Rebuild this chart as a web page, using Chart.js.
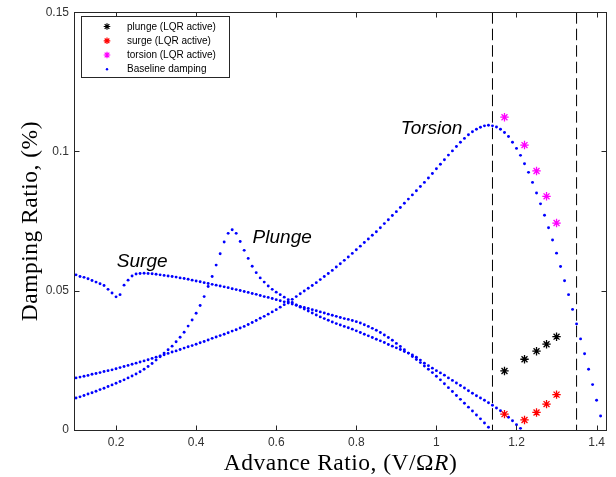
<!DOCTYPE html>
<html>
<head>
<meta charset="utf-8">
<script src="https://cdn.jsdelivr.net/npm/chart.js@4.4.1/dist/chart.umd.min.js"></script>
<style>
html,body{margin:0;padding:0;background:#fff;}
#wrap{position:relative;width:616px;height:477px;}
</style>
</head>
<body>
<div id="wrap"><canvas id="c"></canvas></div>
<script>
// ---- data ----
const advanceRatio = [
0.10,0.11,0.12,0.13,0.14,0.15,0.16,0.17,0.18,0.19,
0.20,0.21,0.22,0.23,0.24,0.25,0.26,0.27,0.28,0.29,
0.30,0.31,0.32,0.33,0.34,0.35,0.36,0.37,0.38,0.39,
0.40,0.41,0.42,0.43,0.44,0.45,0.46,0.47,0.48,0.49,
0.50,0.51,0.52,0.53,0.54,0.55,0.56,0.57,0.58,0.59,
0.60,0.61,0.62,0.63,0.64,0.65,0.66,0.67,0.68,0.69,
0.70,0.71,0.72,0.73,0.74,0.75,0.76,0.77,0.78,0.79,
0.80,0.81,0.82,0.83,0.84,0.85,0.86,0.87,0.88,0.89,
0.90,0.91,0.92,0.93,0.94,0.95,0.96,0.97,0.98,0.99,
1.00,1.01,1.02,1.03,1.04,1.05,1.06,1.07,1.08,1.09,
1.10,1.11,1.12,1.13,1.14,1.15,1.16,1.17,1.18,1.19,
1.20,1.21,1.22,1.23,1.24,1.25,1.26,1.27,1.28,1.29,
1.30,1.31,1.32,1.33,1.34,1.35,1.36,1.37,1.38,1.39,
1.40,1.41];

const torsionBaseline = [
.0187,.0190,.0193,.0196,.0200,.0203,.0206,.0210,.0213,.0216,
.0220,.0224,.0228,.0232,.0236,.0240,.0244,.0248,.0252,.0257,
.0261,.0266,.0270,.0275,.0280,.0284,.0289,.0294,.0299,.0303,
.0308,.0313,.0318,.0323,.0329,.0334,.0339,.0344,.0349,.0355,
.0360,.0366,.0372,.0379,.0386,.0393,.0401,.0408,.0416,.0424,
.0432,.0441,.0450,.0460,.0469,.0479,.0489,.0499,.0509,.0519,
.0529,.0540,.0551,.0562,.0573,.0585,.0597,.0609,.0621,.0634,
.0647,.0660,.0673,.0686,.0699,.0712,.0726,.0741,.0755,.0770,
.0784,.0799,.0814,.0829,.0844,.0859,.0874,.0889,.0905,.0921,
.0938,.0954,.0970,.0987,.1002,.1018,.1033,.1047,.1060,.1071,
.1080,.1087,.1092,.1094,.1092,.1088,.1080,.1068,.1054,.1033,
.1011,.0986,.0956,.0925,.0889,.0851,.0812,.0771,.0726,.0682,
.0635,.0587,.0536,.0486,.0433,.0381,.0327,.0274,.0218,.0163,
.0107,.0050];

const plungeBaseline = [
.0115,.0119,.0124,.0129,.0134,.0139,.0145,.0150,.0156,.0162,
.0168,.0174,.0180,.0187,.0194,.0201,.0209,.0218,.0228,.0239,
.0251,.0263,.0276,.0288,.0301,.0317,.0333,.0351,.0373,.0395,
.0419,.0447,.0479,.0515,.0551,.0592,.0633,.0675,.0706,.0719,
.0706,.0677,.0645,.0616,.0588,.0565,.0546,.0531,.0517,.0505,
.0495,.0486,.0477,.0468,.0458,.0449,.0441,.0434,.0427,.0420,
.0413,.0406,.0400,.0394,.0388,.0382,.0377,.0372,.0367,.0362,
.0356,.0350,.0344,.0338,.0332,.0326,.0320,.0314,.0307,.0301,
.0295,.0289,.0282,.0276,.0269,.0261,.0251,.0240,.0231,.0222,
.0213,.0205,.0197,.0187,.0178,.0169,.0160,.0151,.0141,.0132,
.0123,.0115,.0107,.0098,.0089,.0079,.0069,.0059,.0046,.0033,
.0019,.0006];

const surgeBaseline = [
.0557,.0551,.0548,.0543,.0537,.0531,.0525,.0519,.0505,.0492,
.0478,.0486,.0520,.0538,.0553,.0560,.0562,.0563,.0562,.0561,
.0559,.0557,.0555,.0553,.0551,.0549,.0546,.0544,.0541,.0538,
.0535,.0532,.0529,.0526,.0523,.0520,.0517,.0514,.0511,.0507,
.0504,.0501,.0497,.0494,.0490,.0487,.0483,.0479,.0476,.0472,
.0468,.0464,.0460,.0456,.0452,.0448,.0444,.0440,.0436,.0432,
.0428,.0424,.0420,.0416,.0412,.0408,.0404,.0400,.0397,.0393,
.0389,.0384,.0378,.0372,.0365,.0358,.0350,.0341,.0332,.0322,
.0311,.0300,.0288,.0276,.0264,.0253,.0242,.0230,.0218,.0206,
.0193,.0180,.0166,.0152,.0138,.0124,.0110,.0096,.0082,.0068,
.0054,.0040,.0025,.0010];

const lqrAdvanceRatio = [1.17, 1.22, 1.25, 1.275, 1.30];
const plungeLQR  = [0.0212, 0.0254, 0.0283, 0.0308, 0.0335];
const surgeLQR   = [0.0057, 0.0036, 0.0063, 0.0093, 0.0127];
const torsionLQR = [0.1123, 0.1023, 0.0930, 0.0839, 0.0743];

const boundaryRatios = [1.14, 1.35];

const xTickValues = [0.2, 0.4, 0.6, 0.8, 1.0, 1.2, 1.4];
const xTickLabels = ['0.2', '0.4', '0.6', '0.8', '1', '1.2', '1.4'];
const yTickValues = [0, 0.05, 0.1, 0.15];
const yTickLabels = ['0', '0.05', '0.1', '0.15'];

const legendLabels = ['plunge (LQR active)', 'surge (LQR active)', 'torsion (LQR active)', 'Baseline damping'];
const curveNames = ['Surge', 'Plunge', 'Torsion'];
const xTitle = ['Advance Ratio, (V/\u03A9', 'R', ')'];
const yTitle = 'Damping Ratio, (%)';

// ---- build ----
const pts = (xs, ys) => ys.map((v, i) => ({x: xs[i], y: v}));
const BLUE = '#0000ff', RED = '#ff0000', MAG = '#ff00ff', BLK = '#000000';

function starSet(label, ys, color) {
  return {label, data: pts(lqrAdvanceRatio, ys), showLine: false,
    pointStyle: 'star', pointRadius: 4.2, pointBorderWidth: 1.3,
    borderColor: color, backgroundColor: color};
}
function dotSet(label, ys) {
  return {label, data: pts(advanceRatio, ys), showLine: false,
    pointStyle: 'circle', pointRadius: 1.45, pointBorderWidth: 0,
    borderColor: BLUE, backgroundColor: BLUE};
}
const yMin = yTickValues[0], yMax = yTickValues[yTickValues.length - 1];

const datasets = [
  starSet(legendLabels[0], plungeLQR, BLK),
  starSet(legendLabels[1], surgeLQR, RED),
  starSet(legendLabels[2], torsionLQR, MAG),
  dotSet(legendLabels[3], torsionBaseline),
  dotSet(legendLabels[3], plungeBaseline),
  dotSet(legendLabels[3], surgeBaseline),
  ...boundaryRatios.map(b => ({label: 'boundary', data: [{x: b, y: yMax}, {x: b, y: yMin}],
    showLine: true, pointRadius: 0, borderColor: BLK, borderWidth: 1, borderDash: [11.5, 5]}))
];

const annotationAt = [[0.202, 0.0586], [0.541, 0.0671], [0.911, 0.1063]];
const legendColors = [BLK, RED, MAG, BLUE];

function drawAsterisk(ctx, cx, cy, r, color, lw) {
  ctx.save();
  ctx.strokeStyle = color; ctx.lineWidth = lw;
  ctx.beginPath();
  const d = r * Math.SQRT1_2;
  ctx.moveTo(cx - r, cy); ctx.lineTo(cx + r, cy);
  ctx.moveTo(cx, cy - r); ctx.lineTo(cx, cy + r);
  ctx.moveTo(cx - d, cy - d); ctx.lineTo(cx + d, cy + d);
  ctx.moveTo(cx - d, cy + d); ctx.lineTo(cx + d, cy - d);
  ctx.stroke();
  ctx.restore();
}

const decor = {
  id: 'decor',
  afterDatasetsDraw(chart) {
    const {ctx, chartArea: a, scales: {x, y}} = chart;
    ctx.save();
    // curve annotations
    ctx.fillStyle = '#000';
    ctx.font = 'italic 19px "Liberation Sans", Arial, sans-serif';
    ctx.textAlign = 'left'; ctx.textBaseline = 'alphabetic';
    curveNames.forEach((n, i) => ctx.fillText(n, x.getPixelForValue(annotationAt[i][0]), y.getPixelForValue(annotationAt[i][1])));

    // frame
    const L = Math.round(a.left) + 0.5, R = Math.round(a.right) - 0.5;
    const T = Math.round(a.top) + 0.5, B = Math.round(a.bottom) + 0.5;
    ctx.strokeStyle = '#262626'; ctx.lineWidth = 1;
    ctx.strokeRect(L, T, R - L, B - T);
    ctx.beginPath();
    const tl = 5;
    xTickValues.forEach(v => {
      const px = Math.round(x.getPixelForValue(v)) + 0.5;
      ctx.moveTo(px, B); ctx.lineTo(px, B - tl);
      ctx.moveTo(px, T); ctx.lineTo(px, T + tl);
    });
    yTickValues.forEach(v => {
      const py = Math.round(y.getPixelForValue(v)) + 0.5;
      ctx.moveTo(L, py); ctx.lineTo(L + tl, py);
      ctx.moveTo(R, py); ctx.lineTo(R - tl, py);
    });
    ctx.stroke();

    // legend
    const lx = 81.5, ly = 16.5, lw = 148, lh = 61;
    ctx.fillStyle = '#fff'; ctx.fillRect(lx, ly, lw, lh);
    ctx.strokeStyle = '#262626'; ctx.strokeRect(lx, ly, lw, lh);
    ctx.font = '10px "Liberation Sans", Arial, sans-serif';
    ctx.textBaseline = 'middle'; ctx.textAlign = 'left';
    const rows = [26.5, 40.8, 55, 69.2];
    legendLabels.forEach((t, i) => {
      const mx = 107, my = rows[i];
      if (i < 3) drawAsterisk(ctx, mx, my, 3.3, legendColors[i], 1.2);
      else { ctx.fillStyle = BLUE; ctx.beginPath(); ctx.arc(mx, my, 1.2, 0, Math.PI * 2); ctx.fill(); }
      ctx.fillStyle = '#000';
      ctx.fillText(t, 127, my + 0.5);
    });

    // axis titles
    ctx.fillStyle = '#000';
    ctx.textBaseline = 'alphabetic';
    if ('letterSpacing' in ctx) ctx.letterSpacing = '0.5px';
    const fN = '23.5px "Liberation Serif", "Times New Roman", serif';
    const fI = 'italic 23.5px "Liberation Serif", "Times New Roman", serif';
    const fonts = [fN, fI, fN];
    let widths = xTitle.map((s, i) => { ctx.font = fonts[i]; return ctx.measureText(s).width; });
    let total = widths.reduce((p, c) => p + c, 0);
    let cx = (a.left + a.right) / 2 - total / 2;
    xTitle.forEach((s, i) => { ctx.font = fonts[i]; ctx.textAlign = 'left'; ctx.fillText(s, cx, 470); cx += widths[i]; });

    ctx.save();
    ctx.translate(37, (a.top + a.bottom) / 2);
    ctx.rotate(-Math.PI / 2);
    ctx.font = fN; ctx.textAlign = 'center';
    ctx.fillText(yTitle, 0, 0);
    ctx.restore();

    ctx.restore();
  }
};

new Chart(document.getElementById('c'), {
  type: 'scatter',
  data: {datasets},
  options: {
    responsive: true, maintainAspectRatio: false, animation: false,
    devicePixelRatio: 1,
    layout: {padding: {left: 0, top: 10, right: 9, bottom: 0}},
    plugins: {legend: {display: false}, tooltip: {enabled: false}},
    scales: {
      x: {type: 'linear', min: 0.095, max: 1.426,
        grid: {display: false, drawTicks: false}, border: {display: false},
        afterBuildTicks: s => { s.ticks = xTickValues.map(v => ({value: v})); },
        afterFit: s => { s.height = 47; },
        ticks: {autoSkip: false, maxRotation: 0, padding: 5, color: '#333333',
          font: {family: '"Liberation Sans", Arial, sans-serif', size: 12},
          callback: (v, i) => xTickLabels[i]}},
      y: {type: 'linear', min: yMin, max: yMax,
        grid: {display: false, drawTicks: false}, border: {display: false},
        afterBuildTicks: s => { s.ticks = yTickValues.map(v => ({value: v})); },
        afterFit: s => { s.width = 74; },
        ticks: {autoSkip: false, padding: 5, color: '#333333',
          font: {family: '"Liberation Sans", Arial, sans-serif', size: 12},
          callback: (v, i) => yTickLabels[i]}}
    }
  },
  plugins: [decor]
});
</script>
</body>
</html>
